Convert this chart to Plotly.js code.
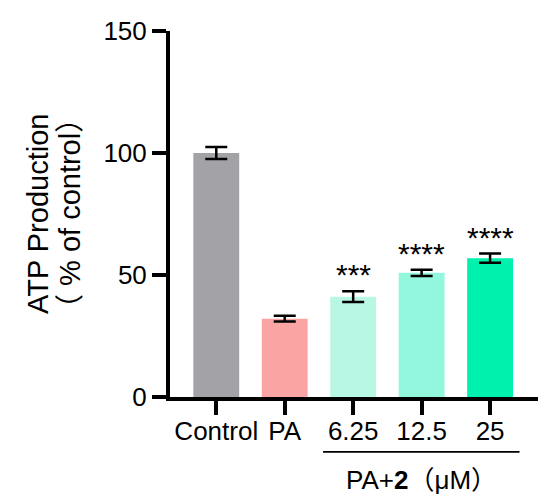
<!DOCTYPE html>
<html>
<head>
<meta charset="utf-8">
<script src="https://cdn.plot.ly/plotly-3.0.1.min.js"></script>
<style>html,body{margin:0;padding:0;background:#fff;}#chart{width:550px;height:502px;}</style>
</head>
<body>
<div id="chart"></div>
<script>
const categories = ["Control", "PA", "6.25", "12.5", "25"];
const values = [100, 32.1, 41.1, 50.9, 56.9];
const errors = [2.5, 1.2, 2.2, 1.3, 1.9];
const colors = ["#a3a2a7", "#fba4a4", "#b9f7e5", "#93f7dd", "#00f0ad"];
const stars = ["", "", "***", "****", "****"];
const yTicks = [0, 50, 100, 150];
const groupLabel = "PA+<b>2</b>（μM）";
const yTitle1 = "ATP Production";
const yTitle2 = "（ % of control）";

const FONT = "Liberation Sans, Arial, Noto Sans CJK SC, sans-serif";
const xs = categories.map((c, i) => i);

const trace = {
  type: "bar",
  x: xs,
  y: values,
  width: 0.67,
  marker: { color: colors, line: { width: 0 } },
  error_y: { type: "data", array: errors, visible: true, color: "#000", thickness: 2.5, width: 11 },
  hoverinfo: "skip"
};

const annotations = [];
stars.forEach((s, i) => {
  if (!s) return;
  annotations.push({
    x: xs[i], y: values[i] + errors[i], xref: "x", yref: "y",
    text: s, showarrow: false, xanchor: "center", yanchor: "bottom", yshift: -2,
    font: { family: FONT, size: 30, color: "#000" }
  });
});
annotations.push({
  x: 0, xref: "paper", y: 0.5, yref: "paper", xshift: -132, text: yTitle1,
  textangle: -90, showarrow: false, xanchor: "center", yanchor: "middle",
  font: { family: FONT, size: 29, color: "#000" }
});
annotations.push({
  x: 0, xref: "paper", y: 0.5, yref: "paper", xshift: -100, text: yTitle2,
  textangle: -90, showarrow: false, xanchor: "center", yanchor: "middle",
  font: { family: FONT, size: 29, color: "#000" }
});
annotations.push({
  x: 3, xref: "x", y: -0.2276, yref: "paper", text: groupLabel,
  showarrow: false, xanchor: "center", yanchor: "middle",
  font: { family: FONT, size: 26, color: "#000" }
});

const layout = {
  width: 550, height: 502,
  margin: { l: 170, r: 12, t: 31, b: 105 },
  paper_bgcolor: "#fff", plot_bgcolor: "#fff",
  showlegend: false,
  font: { family: FONT, size: 26, color: "#000" },
  xaxis: {
    range: [-0.676, 4.70],
    tickvals: xs, ticktext: categories,
    ticks: "outside", ticklen: 14, tickwidth: 4, tickcolor: "#000",
    ticklabelstandoff: -6,
    showline: true, linewidth: 4, linecolor: "#000",
    showgrid: false, zeroline: false, fixedrange: true,
    tickfont: { family: FONT, size: 26, color: "#000" }
  },
  yaxis: {
    range: [0, 150],
    tickvals: yTicks,
    ticks: "outside", ticklen: 14, tickwidth: 4, tickcolor: "#000",
    showline: true, linewidth: 4, linecolor: "#000",
    showgrid: false, zeroline: false, fixedrange: true,
    tickfont: { family: FONT, size: 26, color: "#000" }
  },
  shapes: [{
    type: "line", xref: "x", yref: "paper", x0: 1.56, x1: 4.43, y0: -0.150, y1: -0.150,
    line: { color: "#000", width: 1.6 }
  }],
  annotations: annotations
};

Plotly.newPlot("chart", [trace], layout, { displayModeBar: false, staticPlot: true });
</script>
</body>
</html>
